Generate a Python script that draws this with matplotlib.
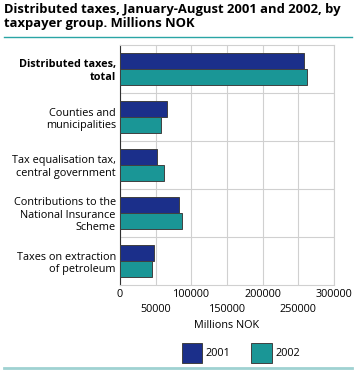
import numpy as np
import matplotlib.pyplot as plt
from matplotlib.patches import Patch
from matplotlib.lines import Line2D

plt.rcParams['font.family'] = ['Open Sans', 'DejaVu Sans']

categories = ['Distributed taxes,\ntotal', 'Counties and\nmunicipalities',
              'Tax equalisation tax,\ncentral government',
              'Contributions to the\nNational Insurance\nScheme',
              'Taxes on extraction\nof petroleum']
values_2001 = [258000, 65500, 51500, 83000, 47500]
values_2002 = [261500, 57000, 61000, 86500, 45000]
xticks = [0, 50000, 100000, 150000, 200000, 250000, 300000]

c2001 = '#1b2f8a'
c2002 = '#1a9696'

fig = plt.figure(figsize=(3.56, 3.70), dpi=100)
ax = fig.add_axes([120/356, 1 - 285/370, 214/356, 240/370])

y = np.arange(len(categories))
h = 0.34
ax.barh(y - h/2, values_2001, height=h, color=c2001, edgecolor='#404040', linewidth=0.7, zorder=3)
ax.barh(y + h/2, values_2002, height=h, color=c2002, edgecolor='#404040', linewidth=0.7, zorder=3)

ax.set_xlim(0, 300000)
ax.set_ylim(len(categories) - 0.5, -0.5)
ax.set_yticks(y)
ax.set_yticklabels(categories, fontsize=7.8, linespacing=1.2)
ax.get_yticklabels()[0].set_fontweight('bold')
ax.tick_params(axis='y', length=0, pad=3)

ax.set_xticks(xticks)
ax.set_xticklabels([''] * len(xticks))
ax.tick_params(axis='x', length=0)
for i, v in enumerate(xticks):
    off = 0 if i % 2 == 0 else -11
    ax.annotate(str(v), xy=(v, 0), xycoords=('data', 'axes fraction'),
                xytext=(0, -3 + off), textcoords='offset points',
                ha='center', va='top', fontsize=7.8)

ax.grid(axis='x', color='#d0d0d0', linewidth=0.8, zorder=0)
for b in np.arange(0.5, len(categories) - 0.5, 1):
    ax.axhline(b, color='#d0d0d0', linewidth=0.8, zorder=0)

for s in ['top', 'right', 'bottom']:
    ax.spines[s].set_color('#d0d0d0')
ax.spines['left'].set_color('#303030')
ax.spines['left'].set_linewidth(0.8)

fig.text(120/356 + 107/356, 1 - 325/370, 'Millions NOK', ha='center', va='center', fontsize=7.8)

fig.text(4/356, 1 - 3/370, 'Distributed taxes, January-August 2001 and 2002, by\ntaxpayer group. Millions NOK',
         ha='left', va='top', fontsize=9.4, fontweight='bold', linespacing=1.1)
fig.add_artist(Line2D([4/356, 352/356], [1 - 37/370, 1 - 37/370], color='#2aa5a5', linewidth=1.0))
fig.add_artist(Line2D([4/356, 352/356], [1 - 368/370, 1 - 368/370], color='#9fd2d2', linewidth=2.0))

handles = [Patch(facecolor=c2001, edgecolor='#404040', linewidth=0.7, label='2001'),
           Patch(facecolor=c2002, edgecolor='#404040', linewidth=0.7, label='2002')]
fig.legend(handles=handles, loc='center', bbox_to_anchor=(241/356, 1 - 353/370), ncol=2,
           frameon=False, fontsize=7.8, handlelength=1.9, handleheight=2.4,
           columnspacing=1.9, handletextpad=0.35)

fig.savefig('out.png', dpi=100)
